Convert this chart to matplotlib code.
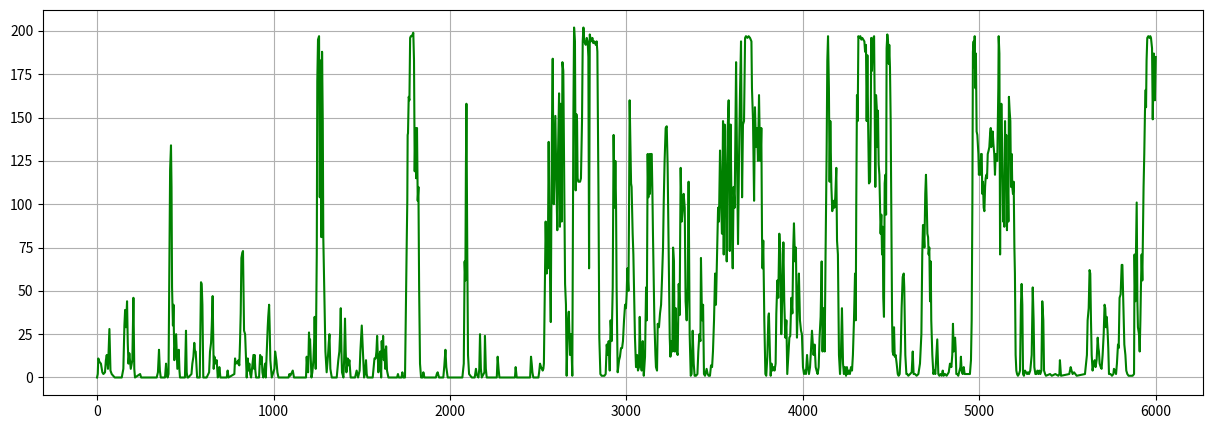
import matplotlib
matplotlib.use("Agg")
import matplotlib.pyplot as plt

plt.rcParams['font.family'] = ['Noto Sans CJK SC', 'DejaVu Sans']

# (step, value) pairs, one list per stretch of the run
seg_0 = [(0, 0), (4, 2), (7, 11), (14, 9), (22, 8), (30, 3), (36, 2), (45, 3), (50, 10), (55, 13), (62, 5),
         (70, 28), (76, 4), (83, 2), (100, 0), (140, 0), (149, 5), (155, 30), (159, 39), (164, 29), (170, 44),
         (174, 20), (178, 8), (183, 14), (191, 5), (200, 10), (206, 46), (211, 5), (215, 0), (244, 2), (250, 0),
         (338, 0), (345, 3), (351, 16), (356, 4), (361, 0), (385, 0), (391, 8), (396, 1), (400, 0), (405, 2),
         (410, 71), (414, 120), (419, 134), (422, 110), (425, 52), (430, 30), (433, 42), (438, 10), (443, 20),
         (448, 25), (455, 5), (460, 12), (463, 16), (467, 4), (470, 0), (498, 0), (504, 27), (508, 3), (512, 0)]

seg_1 = [(517, 0), (535, 2), (540, 8), (546, 12), (551, 20), (555, 15), (559, 15), (567, 0), (582, 0), (586, 30),
         (589, 55), (593, 54), (597, 42), (602, 0), (621, 0), (635, 3), (640, 15), (646, 20), (650, 30), (655, 47),
         (658, 25), (661, 5), (665, 12), (669, 10), (673, 8), (678, 10), (684, 0), (690, 2), (693, 6), (699, 0),
         (735, 0), (740, 4), (745, 0), (778, 2), (782, 11), (786, 8), (791, 9), (797, 8), (801, 10), (806, 7),
         (810, 20), (814, 37), (818, 69), (823, 72), (827, 73), (830, 50), (833, 27), (839, 25), (848, 0),
         (854, 11), (858, 4), (863, 8), (868, 2), (873, 0), (886, 13), (890, 5), (893, 13), (897, 4), (901, 0),
         (918, 0), (924, 13), (928, 8), (933, 12), (937, 3), (942, 0), (952, 8), (956, 0), (967, 29), (970, 35),
         (975, 42), (978, 30), (982, 10), (990, 0), (1005, 5), (1009, 15), (1013, 12), (1016, 10), (1022, 3),
         (1028, 0)]

seg_2 = [(1085, 0), (1090, 2), (1095, 1), (1109, 4), (1116, 0), (1184, 0), (1188, 12), (1192, 5), (1196, 3),
         (1201, 26), (1204, 18), (1207, 22), (1215, 0), (1220, 3), (1226, 10), (1230, 20), (1233, 35), (1239, 5),
         (1245, 71), (1248, 171), (1252, 195), (1255, 196), (1258, 197), (1260, 150), (1262, 104), (1267, 183),
         (1271, 81), (1275, 188), (1279, 148), (1282, 81), (1288, 48), (1294, 15), (1301, 3), (1305, 8),
         (1309, 13), (1313, 20), (1317, 25), (1322, 5), (1330, 0), (1358, 0), (1367, 10), (1373, 15), (1377, 25),
         (1381, 40), (1385, 15), (1388, 3), (1396, 0), (1400, 10), (1405, 34), (1409, 15), (1413, 3), (1420, 11),
         (1425, 7), (1430, 10), (1437, 0), (1462, 0), (1471, 4), (1479, 0), (1488, 4), (1492, 15), (1500, 30),
         (1505, 18), (1513, 0), (1518, 2), (1524, 10), (1528, 2), (1532, 0), (1562, 0), (1572, 11), (1579, 11),
         (1583, 15), (1587, 24), (1594, 3), (1600, 12), (1604, 15)]

seg_3 = [(1610, 0), (1613, 21), (1617, 12), (1621, 24), (1625, 10), (1628, 16), (1633, 5), (1638, 18), (1643, 4),
         (1651, 0), (1700, 0), (1705, 2), (1710, 0), (1725, 0), (1730, 3), (1735, 0), (1745, 0), (1749, 33),
         (1752, 55), (1755, 80), (1758, 102), (1760, 140), (1762, 141), (1766, 162), (1770, 160), (1774, 196),
         (1778, 197), (1783, 197), (1788, 198), (1792, 199), (1796, 183), (1800, 119), (1804, 144), (1808, 115),
         (1813, 144), (1817, 102), (1821, 110), (1825, 52), (1830, 8), (1836, 0), (1845, 0), (1849, 3), (1855, 0),
         (1920, 0), (1925, 2), (1930, 3), (1938, 0), (1962, 0), (1968, 7), (1974, 16), (1979, 6), (1987, 0),
         (2070, 0), (2078, 8), (2083, 67), (2087, 56), (2090, 120), (2093, 158), (2098, 70), (2102, 13),
         (2108, 2), (2123, 0)]

seg_4 = [(2140, 0), (2147, 5), (2151, 2), (2155, 1), (2161, 0), (2166, 5), (2170, 25), (2175, 5), (2180, 0),
         (2195, 3), (2198, 24), (2203, 5), (2208, 0), (2265, 0), (2270, 12), (2275, 5), (2280, 0), (2368, 0),
         (2372, 6), (2378, 0), (2454, 0), (2459, 12), (2463, 8), (2467, 3), (2472, 0), (2501, 0), (2505, 3),
         (2510, 8), (2516, 6), (2521, 5), (2525, 4), (2529, 5), (2532, 8), (2535, 32), (2538, 60), (2542, 90),
         (2548, 60), (2551, 70), (2554, 63), (2559, 136), (2565, 71), (2571, 32), (2574, 90), (2578, 148),
         (2582, 184), (2586, 120), (2588, 100), (2593, 129), (2597, 151), (2603, 110), (2608, 85), (2612, 129),
         (2618, 164), (2623, 87), (2627, 158), (2633, 90), (2637, 182), (2642, 177), (2646, 129), (2652, 54),
         (2657, 42), (2661, 1), (2667, 30), (2673, 38)]

seg_5 = [(2680, 13), (2686, 25), (2693, 1), (2699, 150), (2703, 202), (2708, 194), (2712, 108), (2716, 152),
         (2720, 148), (2723, 115), (2727, 113), (2737, 113), (2742, 115), (2748, 148), (2752, 194), (2756, 202),
         (2761, 194), (2769, 192), (2775, 196), (2780, 194), (2784, 185), (2788, 63), (2792, 198), (2799, 194),
         (2807, 196), (2812, 193), (2818, 194), (2826, 192), (2831, 194), (2835, 188), (2841, 110), (2846, 23),
         (2852, 2), (2859, 1), (2875, 1), (2882, 2), (2888, 19), (2894, 13), (2899, 21), (2905, 4), (2910, 33),
         (2916, 21), (2922, 52), (2927, 140), (2933, 98), (2937, 125), (2941, 98), (2944, 52), (2950, 3),
         (2958, 10), (2963, 12), (2969, 17), (2975, 17), (2980, 21), (2986, 33), (2992, 42), (2997, 40),
         (3001, 48), (3005, 63), (3011, 50), (3014, 90), (3018, 160), (3022, 137), (3026, 112), (3029, 110),
         (3035, 83), (3039, 71), (3045, 37), (3048, 23), (3054, 6), (3060, 13), (3065, 4), (3071, 6), (3075, 35),
         (3080, 10), (3086, 4), (3092, 21), (3098, 1), (3105, 12), (3111, 52), (3115, 33), (3120, 129),
         (3124, 104), (3130, 129), (3133, 106), (3139, 129), (3143, 129), (3147, 106), (3150, 83), (3154, 58),
         (3158, 33), (3164, 13), (3167, 6), (3173, 4), (3177, 31), (3184, 29), (3190, 37), (3196, 42)]

seg_6 = [(3201, 56), (3207, 75), (3211, 101), (3216, 125), (3222, 144), (3228, 145), (3233, 123), (3239, 71),
         (3245, 23), (3249, 12), (3254, 21), (3260, 15), (3264, 75), (3269, 67), (3273, 15), (3279, 40),
         (3284, 15), (3290, 13), (3296, 54), (3301, 36), (3307, 121), (3313, 90), (3318, 96), (3324, 106),
         (3330, 98), (3335, 44), (3341, 33), (3347, 52), (3352, 113), (3358, 25), (3364, 1), (3369, 2),
         (3375, 27), (3381, 8), (3386, 1), (3394, 1), (3402, 2), (3407, 15), (3413, 25), (3419, 21), (3422, 69),
         (3428, 33), (3434, 42), (3439, 2), (3445, 1), (3454, 5), (3460, 2), (3466, 1), (3473, 1), (3479, 7),
         (3485, 6), (3490, 15), (3496, 33), (3502, 60), (3507, 42), (3513, 71), (3519, 98), (3524, 90),
         (3530, 131), (3536, 102), (3541, 83), (3547, 148), (3551, 71), (3556, 146), (3562, 110), (3568, 67),
         (3573, 142), (3579, 160), (3585, 73), (3590, 146), (3596, 90), (3602, 63), (3607, 110), (3613, 98),
         (3621, 182), (3626, 129), (3632, 77), (3638, 129), (3643, 163), (3649, 194), (3655, 104), (3660, 146),
         (3666, 148), (3672, 196), (3677, 197), (3685, 196), (3692, 197), (3700, 196), (3708, 194), (3711, 167),
         (3717, 148), (3723, 102), (3728, 156), (3734, 133), (3740, 144), (3745, 125), (3751, 163), (3757, 125)]

seg_7 = [(3760, 125), (3764, 144), (3768, 81), (3771, 63), (3775, 79), (3781, 33), (3787, 2), (3792, 1),
         (3798, 12), (3804, 35), (3807, 37), (3813, 13), (3817, 1), (3822, 8), (3828, 4), (3834, 6), (3839, 4),
         (3845, 8), (3849, 37), (3855, 56), (3860, 46), (3866, 83), (3872, 71), (3877, 25), (3883, 48),
         (3889, 78), (3894, 44), (3900, 23), (3906, 33), (3911, 2), (3917, 13), (3923, 23), (3928, 24),
         (3934, 46), (3940, 37), (3945, 75), (3949, 89), (3955, 67), (3960, 75), (3966, 23), (3972, 46),
         (3977, 60), (3983, 33), (3989, 27), (3994, 25), (4000, 6), (4006, 2), (4011, 4), (4017, 2), (4023, 13),
         (4028, 6), (4034, 2), (4040, 6), (4045, 15), (4051, 27), (4055, 21), (4060, 13), (4066, 19), (4072, 6),
         (4077, 4), (4083, 2), (4089, 6), (4094, 23), (4100, 35), (4106, 67), (4111, 15), (4117, 40), (4123, 15),
         (4128, 71), (4134, 129), (4138, 183), (4142, 197), (4147, 167), (4151, 113), (4155, 148), (4161, 110),
         (4166, 96), (4172, 102), (4178, 98), (4183, 104), (4189, 121), (4193, 79), (4198, 71), (4204, 13),
         (4210, 2), (4215, 13), (4221, 40), (4227, 8), (4232, 2), (4238, 6), (4244, 1), (4249, 6), (4255, 2),
         (4261, 4), (4266, 2), (4272, 6), (4278, 4), (4283, 13), (4289, 33), (4295, 60)]

seg_8 = [(4299, 33), (4302, 100), (4306, 163), (4310, 148), (4314, 197), (4319, 196), (4325, 197), (4331, 195),
         (4336, 196), (4342, 195), (4348, 194), (4352, 188), (4357, 192), (4361, 148), (4365, 186), (4369, 148),
         (4374, 112), (4380, 113), (4384, 148), (4387, 196), (4391, 177), (4395, 190), (4399, 196), (4403, 197),
         (4406, 163), (4410, 110), (4414, 163), (4418, 156), (4421, 133), (4425, 154), (4429, 123), (4433, 117),
         (4437, 98), (4440, 83), (4444, 94), (4448, 71), (4452, 87), (4455, 46), (4459, 35), (4463, 112),
         (4467, 117), (4471, 94), (4474, 190), (4478, 198), (4482, 194), (4486, 181), (4489, 192), (4493, 179),
         (4497, 148), (4501, 90), (4505, 33), (4508, 15), (4512, 13), (4516, 29), (4520, 12), (4525, 13),
         (4531, 8), (4537, 2), (4542, 1), (4548, 2), (4554, 15), (4559, 40), (4565, 58), (4571, 60), (4574, 52),
         (4580, 13), (4586, 2), (4591, 2), (4597, 1), (4607, 2), (4616, 3), (4622, 15), (4627, 2), (4635, 2),
         (4644, 1), (4654, 2), (4663, 8), (4671, 25), (4676, 71), (4680, 88), (4684, 83), (4688, 75), (4693, 106),
         (4697, 117), (4701, 102), (4705, 83), (4709, 81), (4712, 71), (4716, 75), (4720, 44), (4724, 67),
         (4727, 33), (4733, 13), (4739, 2), (4744, 4), (4750, 2), (4756, 13), (4761, 22), (4767, 2), (4773, 1),
         (4780, 2), (4786, 1), (4792, 4), (4797, 1), (4805, 2), (4814, 1), (4826, 3), (4833, 8)]

seg_9 = [(4841, 6), (4846, 13), (4850, 31), (4854, 15), (4858, 21), (4862, 23), (4865, 17), (4869, 2), (4875, 2),
         (4880, 1), (4892, 6), (4895, 12), (4899, 4), (4905, 2), (4911, 6), (4916, 2), (4928, 2), (4946, 2),
         (4952, 10), (4956, 33), (4960, 102), (4963, 188), (4967, 194), (4971, 179), (4973, 197), (4977, 167),
         (4980, 187), (4984, 142), (4988, 140), (4994, 129), (4997, 117), (5001, 125), (5005, 117), (5009, 129),
         (5013, 129), (5016, 106), (5020, 113), (5024, 98), (5028, 96), (5032, 110), (5035, 115), (5039, 117),
         (5043, 115), (5047, 129), (5052, 131), (5056, 133), (5060, 140), (5064, 144), (5067, 133), (5071, 138),
         (5075, 142), (5079, 135), (5084, 129), (5088, 117), (5092, 129), (5098, 125), (5101, 125), (5107, 167),
         (5109, 197), (5113, 187), (5117, 71), (5120, 129), (5124, 158), (5128, 138), (5132, 110), (5134, 90),
         (5137, 110), (5141, 87), (5145, 148), (5149, 113), (5152, 140), (5156, 85), (5160, 117), (5164, 90),
         (5167, 162), (5171, 154), (5175, 148), (5179, 110), (5183, 129), (5186, 110), (5190, 106), (5194, 113),
         (5198, 75), (5201, 60), (5205, 13), (5209, 4), (5213, 2), (5218, 1), (5224, 2), (5230, 4), (5235, 42),
         (5239, 54), (5243, 42), (5247, 2), (5252, 1), (5258, 4), (5264, 3), (5270, 2), (5275, 3), (5281, 2),
         (5288, 4), (5296, 13), (5302, 52), (5307, 33), (5311, 6), (5317, 2), (5322, 2), (5328, 4), (5334, 2),
         (5339, 4), (5345, 2), (5351, 4), (5356, 44), (5362, 33), (5366, 4), (5372, 2)]

seg_10 = [(5377, 1), (5400, 2), (5410, 1), (5430, 2), (5447, 1), (5453, 2), (5456, 10), (5462, 1), (5509, 2),
          (5517, 6), (5522, 4), (5528, 2), (5536, 3), (5551, 1), (5598, 2), (5604, 8), (5609, 13), (5613, 33),
          (5619, 40), (5624, 62), (5628, 60), (5632, 33), (5636, 13), (5641, 4), (5647, 8), (5653, 10), (5658, 6),
          (5664, 10), (5670, 23), (5674, 17), (5677, 15), (5681, 8), (5687, 6), (5692, 5), (5698, 13), (5704, 25),
          (5709, 42), (5713, 40), (5717, 29), (5721, 35), (5726, 27), (5730, 17), (5734, 2), (5743, 2), (5751, 1),
          (5759, 2), (5762, 5), (5768, 4), (5774, 2), (5779, 8), (5785, 19), (5789, 17), (5794, 46), (5800, 48),
          (5806, 65), (5810, 65), (5813, 52), (5817, 33), (5821, 19), (5827, 13), (5832, 4), (5838, 2), (5845, 1),
          (5857, 1), (5868, 1), (5876, 2), (5879, 71), (5883, 44), (5887, 71), (5891, 101), (5895, 44),
          (5898, 29), (5904, 25), (5908, 15), (5912, 33), (5915, 52), (5919, 71), (5923, 56), (5927, 87),
          (5930, 110), (5934, 129), (5938, 154), (5942, 166), (5944, 156), (5947, 183), (5951, 196), (5957, 197),
          (5963, 196), (5968, 197), (5972, 196), (5978, 190), (5982, 149), (5988, 187), (5994, 160), (5999, 185)]

segments = [seg_0, seg_1, seg_2, seg_3, seg_4, seg_5, seg_6, seg_7, seg_8, seg_9, seg_10]
steps = [p[0] for s in segments for p in s]
values = [p[1] for s in segments for p in s]

fig = plt.figure(figsize=(12.16, 4.30), dpi=100)
ax = fig.add_axes([0.0354, 0.0814, 0.9538, 0.8953])
ax.plot(steps, values, color='g', linewidth=1.5)
ax.set_xlim(-306, 6266)
ax.grid(True)
ax.tick_params(labelsize=10)

fig.savefig('out.png', dpi=100)
